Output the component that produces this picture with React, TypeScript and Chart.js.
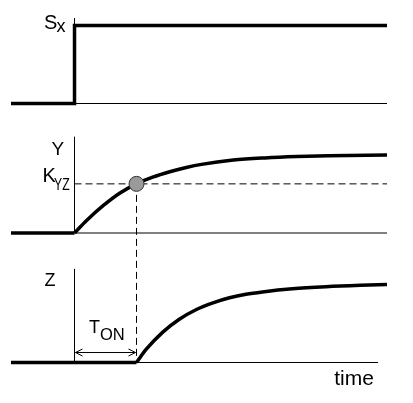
import { useEffect, useRef } from "react";
import { Chart, registerables } from "chart.js";

Chart.register(...registerables);

// ---- time axis ----
const X_MIN = -1;
const X_MAX = 4.92;
const T_ON = 0.976;
const Z_BASE_END = 4.78;

// ---- S_x : step input ----
const sTimes = [-1, 0, 0, 4.92];
const sValues = [0, 0, 1, 1];

// ---- Y : rises after the step ----
const yPreTimes = [-1, 0];
const yPreValues = [0, 0];
const yTimes = [0, 0.19, 0.45, 0.71, 0.976, 1.23, 1.5, 1.76, 2.0, 2.5, 3.0, 3.5, 4.0, 4.92];
const yValues = [0, 0.16, 0.35, 0.51, 0.63, 0.715, 0.785, 0.84, 0.88, 0.935, 0.963, 0.98, 0.99, 1.0];

// ---- threshold ----
const K_YZ = 0.63;

// ---- Z : rises after the delay T_ON ----
const zPreTimes = [-1, 0.976];
const zPreValues = [0, 0];
const zTimes = [0.976, 1.13, 1.39, 1.65, 1.92, 2.18, 2.44, 2.7, 2.96, 3.43, 3.96, 4.5, 4.92];
const zValues = [0, 0.17, 0.39, 0.555, 0.68, 0.765, 0.83, 0.875, 0.905, 0.945, 0.972, 0.99, 1.0];

// ---- axis stubs (top value of each little vertical axis) ----
const axisTopS = 1.096;
const axisTopY = 1.235;
const axisTopZ = 1.2;

const Y_MIN = -0.346;
const Y_MAX = 1.314;

const FONT = "'Liberation Sans', Arial, Helvetica, sans-serif";

const pts = (xs: number[], ys: number[]) => xs.map((x, i) => ({ x, y: ys[i] }));

const thick = (data: any, yAxisID: string, extra: any = {}) => ({
  type: "line",
  data,
  yAxisID,
  xAxisID: "x",
  borderColor: "#000",
  borderWidth: 3.5,
  pointRadius: 0,
  fill: false,
  tension: 0,
  borderCapStyle: "butt",
  borderJoinStyle: "miter",
  ...extra,
});

const thin = (data: any, yAxisID: string, extra: any = {}) => ({
  type: "line",
  data,
  yAxisID,
  xAxisID: "x",
  borderColor: "#000",
  borderWidth: 1,
  pointRadius: 0,
  fill: false,
  tension: 0,
  ...extra,
});

const annotate = {
  id: "annotate",
  beforeDatasetsDraw(chart: any) {
    const { ctx, scales } = chart;
    const x = scales.x.getPixelForValue(T_ON);
    const yTop = scales.yY.getPixelForValue(K_YZ);
    const yBot = scales.yZ.getPixelForValue(0);
    ctx.save();
    ctx.strokeStyle = "#000";
    ctx.lineWidth = 1;
    ctx.setLineDash([7, 4]);
    ctx.beginPath();
    ctx.moveTo(x, yTop);
    ctx.lineTo(x, yBot);
    ctx.stroke();
    ctx.restore();
  },
  afterDatasetsDraw(chart: any) {
    const { ctx, scales } = chart;
    const xs = scales.x;
    const x0 = xs.getPixelForValue(0);
    const x1 = xs.getPixelForValue(T_ON);
    const ya = scales.yZ.getPixelForValue(0.128);

    // T_ON double arrow
    ctx.save();
    ctx.strokeStyle = "#000";
    ctx.lineWidth = 1;
    ctx.beginPath();
    ctx.moveTo(x0 + 1, ya);
    ctx.lineTo(x1 - 1, ya);
    ctx.moveTo(x0 + 8, ya - 3.5);
    ctx.lineTo(x0 + 1, ya);
    ctx.lineTo(x0 + 8, ya + 3.5);
    ctx.moveTo(x1 - 8, ya - 3.5);
    ctx.lineTo(x1 - 1, ya);
    ctx.lineTo(x1 - 8, ya + 3.5);
    ctx.stroke();

    ctx.fillStyle = "#000";
    ctx.textAlign = "left";
    ctx.textBaseline = "alphabetic";

    const text = (s: string, x: number, y: number, size: number, sx = 1) => {
      ctx.save();
      ctx.font = `${size}px ${FONT}`;
      ctx.translate(x, y);
      ctx.scale(sx, 1);
      ctx.fillText(s, 0, 0);
      ctx.restore();
    };

    const yS = scales.yS, yY = scales.yY, yZ = scales.yZ;
    text("S", x0 - 30.5, yS.getPixelForValue(0.955), 20);
    text("x", x0 - 18, yS.getPixelForValue(0.917), 18);
    text("Y", x0 - 23, yY.getPixelForValue(1.0), 19);
    text("K", x0 - 32, yY.getPixelForValue(0.654), 20);
    text("YZ", x0 - 20.5, yY.getPixelForValue(0.545), 17, 0.72);
    text("Z", x0 - 30, yZ.getPixelForValue(0.98), 18);
    text("T", x0 + 14.5, yZ.getPixelForValue(0.378), 18);
    text("ON", x0 + 25.5, yZ.getPixelForValue(0.288), 16.5);
    text("time", xs.getPixelForValue(4.09), yZ.getPixelForValue(-0.288), 21);
    ctx.restore();
  },
};

export default function App() {
  const ref = useRef<HTMLCanvasElement>(null);

  useEffect(() => {
    if (!ref.current) return;
    const yScale = (weight: number) => ({
      type: "linear",
      min: Y_MIN,
      max: Y_MAX,
      display: false,
      position: "left",
      stack: "panels",
      stackWeight: 1,
      weight,
    });
    const chart = new Chart(ref.current, {
      type: "line",
      data: {
        datasets: [
          {
            type: "line",
            data: [{ x: T_ON, y: K_YZ }],
            yAxisID: "yY",
            xAxisID: "x",
            showLine: false,
            pointRadius: 7.5,
            pointBackgroundColor: "#9a9a9a",
            pointBorderColor: "#333",
            pointBorderWidth: 1,
          },
          thick(pts(sTimes, sValues), "yS"),
          thick(pts(yPreTimes, yPreValues), "yY"),
          thick(pts(yTimes, yValues), "yY", { cubicInterpolationMode: "monotone" }),
          thick(pts(zPreTimes, zPreValues), "yZ"),
          thick(pts(zTimes, zValues), "yZ", { cubicInterpolationMode: "monotone" }),
          thin([{ x: 0, y: K_YZ }, { x: X_MAX, y: K_YZ }], "yY", { borderDash: [7, 4] }),
          thin([{ x: 0, y: 0 }, { x: X_MAX, y: 0 }], "yS"),
          thin([{ x: 0, y: 0 }, { x: X_MAX, y: 0 }], "yY"),
          thin([{ x: 0, y: 0 }, { x: Z_BASE_END, y: 0 }], "yZ"),
          thin([{ x: 0, y: 0 }, { x: 0, y: axisTopS }], "yS"),
          thin([{ x: 0, y: 0 }, { x: 0, y: axisTopY }], "yY"),
          thin([{ x: 0, y: 0 }, { x: 0, y: axisTopZ }], "yZ"),
        ] as any,
      },
      options: {
        responsive: false,
        animation: false,
        events: [],
        layout: { padding: { left: 11, right: 26, top: 1, bottom: 13.5 }, autoPadding: false },
        plugins: { legend: { display: false }, tooltip: { enabled: false } },
        scales: {
          x: { type: "linear", min: X_MIN, max: X_MAX, display: false },
          yZ: yScale(1),
          yY: yScale(2),
          yS: yScale(3),
        } as any,
      },
      plugins: [annotate],
    });
    return () => chart.destroy();
  }, []);

  return (
    <div style={{ position: "absolute", left: 0, top: 0, width: 413, height: 403, background: "#fff" }}>
      <canvas ref={ref} width={413} height={403} style={{ display: "block", width: 413, height: 403 }} />
    </div>
  );
}
